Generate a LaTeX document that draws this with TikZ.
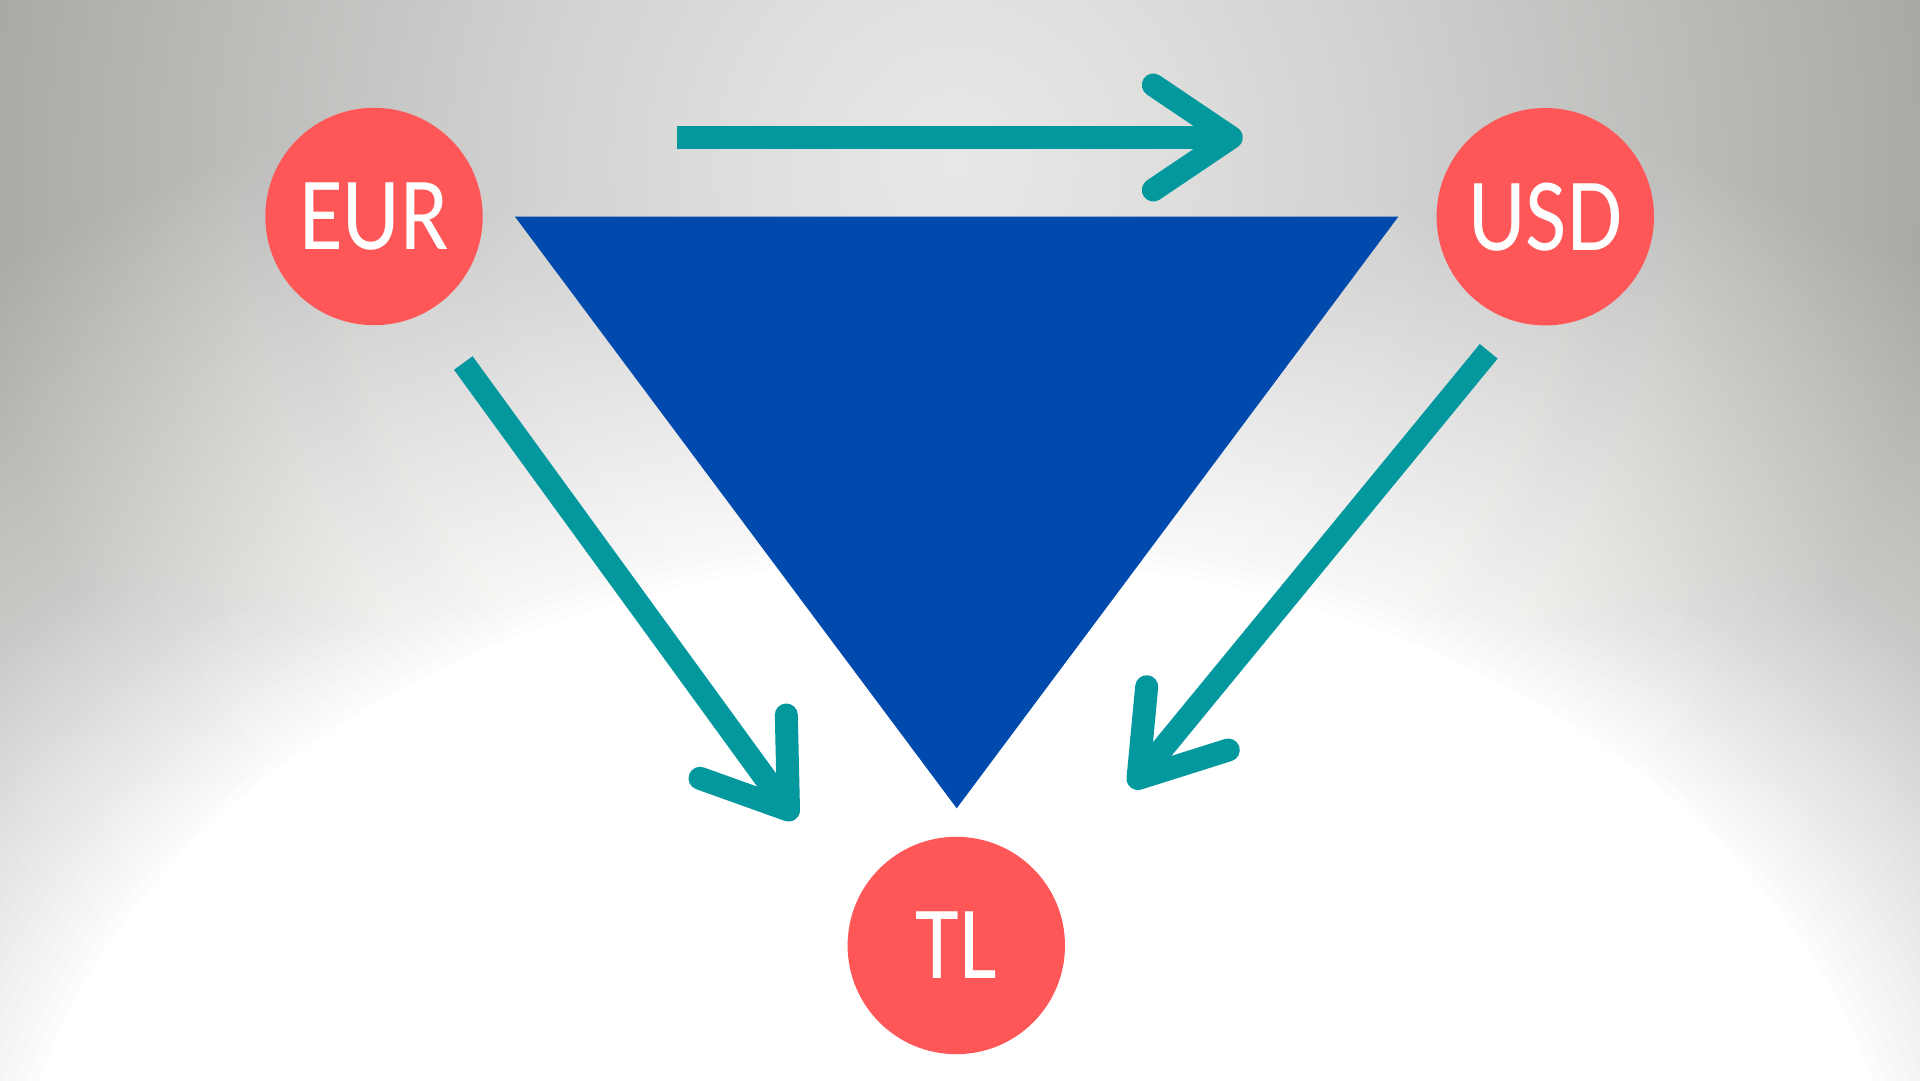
\documentclass[tikz,border=0pt]{standalone}
\usepackage{fontspec}
\newfontfamily\labelfont[FakeStretch=0.86]{Carlito}
\definecolor{coinred}{HTML}{FF5757}
\definecolor{triblue}{HTML}{004AAD}
\definecolor{arrowteal}{HTML}{03989E}
\definecolor{bgA}{HTML}{E8E8E8}
\definecolor{bgB}{HTML}{DFDFDE}
\definecolor{bgC}{HTML}{D3D3D1}
\definecolor{bgD}{HTML}{C5C5C3}
\definecolor{bgE}{HTML}{B6B6B3}
\definecolor{bgF}{HTML}{A8A8A5}
\pgfdeclareradialshading{topglow}{\pgfpointorigin}{color(0bp)=(bgA); color(5bp)=(bgB); color(10bp)=(bgC); color(15bp)=(bgD); color(20bp)=(bgE); color(24.5bp)=(bgF); color(50bp)=(bgF)}
\begin{document}
\begin{tikzpicture}[x=1pt,y=-1pt,
  coin/.style={circle, fill=coinred, minimum size=217.4pt, inner sep=0pt, text=white,
    font=\labelfont\fontsize{104}{104}\selectfont},
  shaft/.style={draw=arrowteal, line width=23pt, line cap=butt},
  chevron/.style={draw=arrowteal, line width=23pt, line cap=round, line join=round}]
\useasboundingbox (0,0) rectangle (1920,1080);
% background
\begin{scope}
  \clip (0,0) rectangle (1920,1080);
  \fill[bgF] (0,0) rectangle (1920,1080);
  \shade[shading=topglow] (-44,-835) rectangle (1956,1165);
  \foreach \k in {1,...,60}{
    \pgfmathsetmacro\rr{1.1-(\k-1)*0.0079661}
    \pgfmathsetmacro\aa{1/(61-\k)}
    \fill[white, fill opacity=\aa] (956,1250) ellipse [x radius=1500pt*\rr, y radius=1100pt*\rr];
  }
\end{scope}
% triangle
\fill[triblue] (515,216.7) -- (1398.3,216.7) -- (956.7,808.3) -- cycle;
% top arrow
\coordinate (topS) at (677,137.5);
\coordinate (topT) at (1231.2,137.5);
\coordinate (topL) at (1153.3,85);
\coordinate (topR) at (1153.3,190);
\draw[shaft] (topS) -- (topT);
\draw[chevron] (topL) -- (topT) -- (topR);
% left arrow
\coordinate (lS) at (463.3,363);
\coordinate (lT) at (788.5,810);
\coordinate (lA) at (786.3,715);
\coordinate (lB) at (700,778.3);
\draw[shaft] (lS) -- (lT);
\draw[chevron] (lA) -- (lT) -- (lB);
% right arrow
\coordinate (rS) at (1488.7,351.3);
\coordinate (rT) at (1138,778.5);
\coordinate (rA) at (1146.7,686.7);
\coordinate (rB) at (1228.3,750);
\draw[shaft] (rS) -- (rT);
\draw[chevron] (rA) -- (rT) -- (rB);
% circles
\node[coin] (eur) at (374,216.5) {EUR};
\node[coin] (usd) at (1545.3,216.7) {USD};
\node[coin] (tl) at (956.3,945.5) {TL};
\end{tikzpicture}
\end{document}
